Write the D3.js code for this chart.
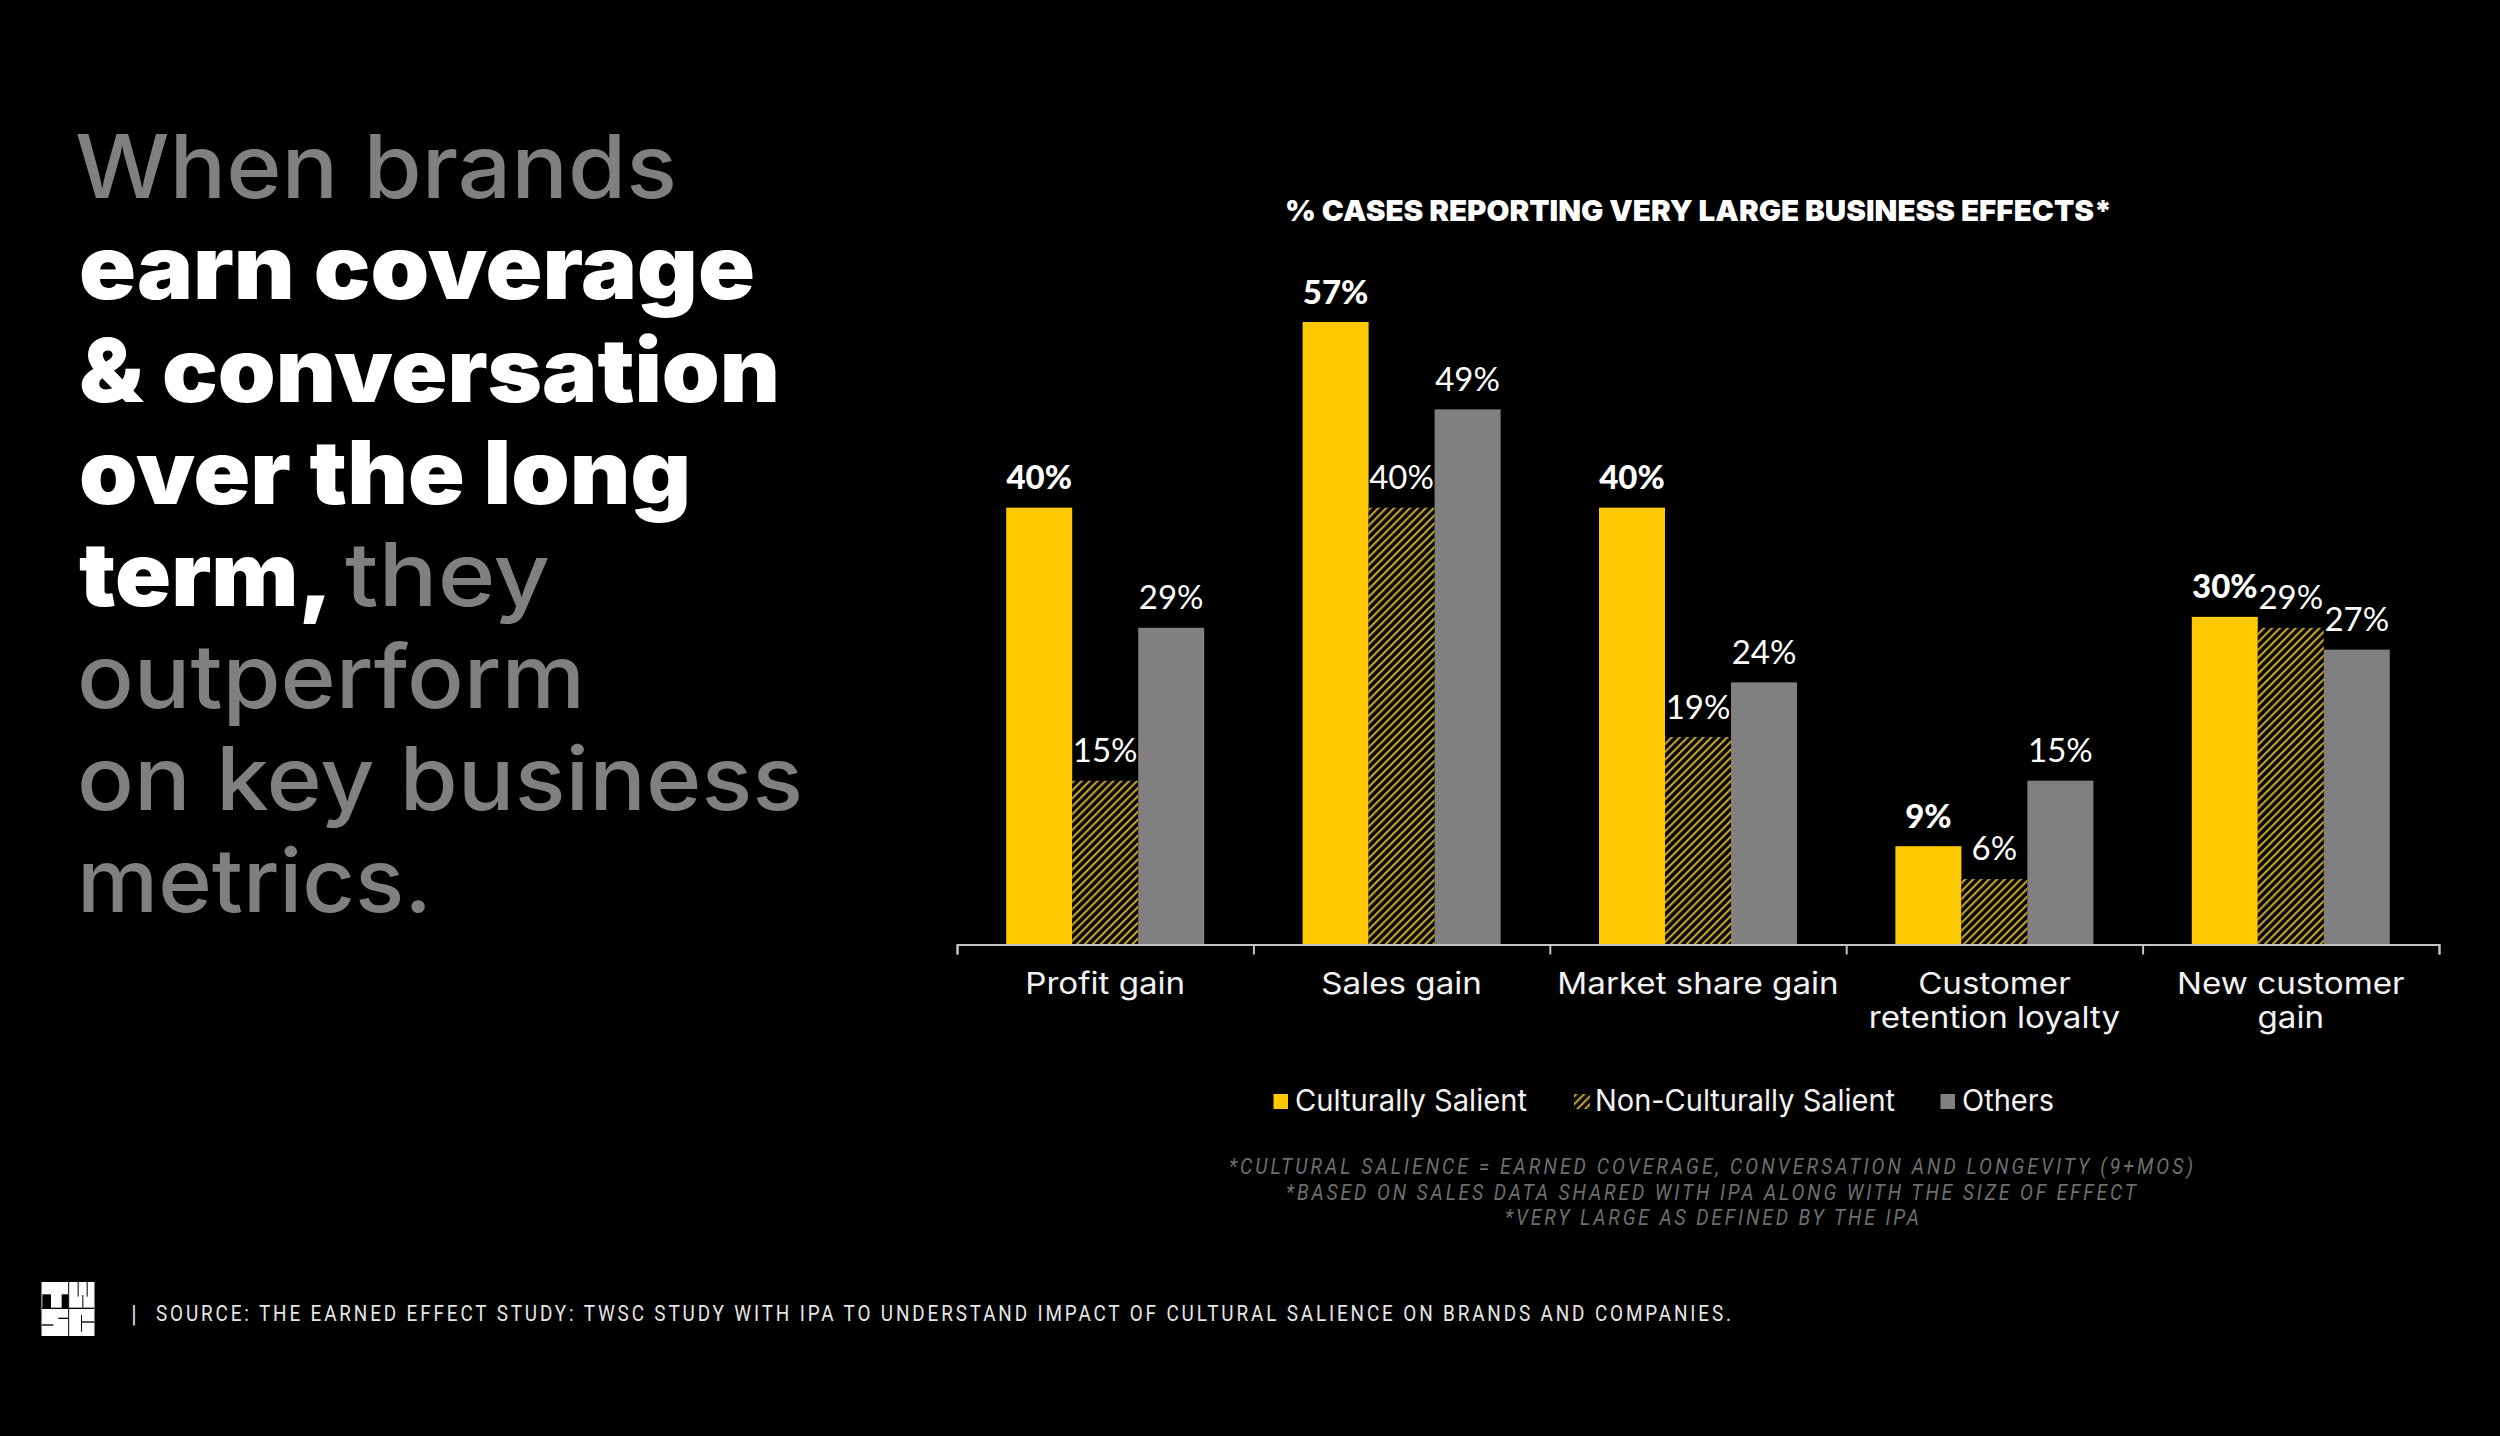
<!DOCTYPE html>
<html><head><meta charset="utf-8">
<script src="https://cdn.jsdelivr.net/npm/d3@7/dist/d3.min.js"></script>
<style>html,body{margin:0;padding:0;background:#000}svg{display:block}</style></head>
<body><svg id="c" width="2500" height="1436"></svg>
<script>
const categories=[["Profit gain"],["Sales gain"],["Market share gain"],["Customer","retention loyalty"],["New customer","gain"]];
const seriesNames=["Culturally Salient","Non-Culturally Salient","Others"];
const culturallySalient=[40,57,40,9,30];
const nonCulturallySalient=[15,40,19,6,29];
const others=[29,49,24,15,27];
const title="% CASES REPORTING VERY LARGE BUSINESS EFFECTS*";
const footnotes=["*CULTURAL SALIENCE = EARNED COVERAGE, CONVERSATION AND LONGEVITY (9+MOS)","*BASED ON SALES DATA SHARED WITH IPA ALONG WITH THE SIZE OF EFFECT","*VERY LARGE AS DEFINED BY THE IPA"];
const source="SOURCE: THE EARNED EFFECT STUDY: TWSC STUDY WITH IPA TO UNDERSTAND IMPACT OF CULTURAL SALIENCE ON BRANDS AND COMPANIES.";
const headline=[
 {x:75,y:198,x2:677,t:"When brands",b:0},
 {x:79,y:299,x2:755,t:"earn coverage",b:1},
 {x:79,y:402,x2:780,t:"& conversation",b:1},
 {x:79,y:504,x2:691,t:"over the long",b:1},
 {x:79,y:606,x2:333,t:"term,",b:1},
 {x:345,y:606,x2:550,t:"they",b:0},
 {x:77,y:708,x2:585,t:"outperform",b:0},
 {x:77,y:810,x2:803,t:"on key business",b:0},
 {x:77,y:912,x2:432,t:"metrics.",b:0}];
const YEL="#FFC800",GRY="#808080";
const svg=d3.select("#c");
svg.append("rect").attr("width",2500).attr("height",1436).attr("fill","#000");
const defs=svg.append("defs");
const pat=defs.append("pattern").attr("id","hatch").attr("patternUnits","userSpaceOnUse").attr("width",5.6).attr("height",5.6).attr("patternTransform","rotate(45)");
pat.append("rect").attr("width",5.6).attr("height",5.6).attr("fill","#000");
pat.append("rect").attr("x",0).attr("width",2.2).attr("height",5.6).attr("fill","#BFA02B");

function fit(sel,w){sel.attr("textLength",w).attr("lengthAdjust","spacingAndGlyphs");return sel;}

// headline
headline.forEach(h=>{
 fit(svg.append("text").attr("x",h.x).attr("y",h.y)
  .attr("font-family","Inter").attr("font-size",88).attr("font-weight",h.b?900:450)
  .attr("fill",h.b?"#fff":GRY).text(h.t),h.x2-h.x);
});

// chart
const x0=d3.scaleBand().domain(d3.range(categories.length)).range([957,2439]);
const y=d3.scaleLinear().domain([0,57]).range([944.5,322]);
const barW=66;
const x1=d3.scaleBand().domain([0,1,2]).range([0,barW*3]);
const inset=(x0.bandwidth()-barW*3)/2;
const series=[culturallySalient,nonCulturallySalient,others];
const fills=[YEL,"url(#hatch)",GRY];
series.forEach((vals,s)=>{
 const g=svg.append("g");
 g.selectAll("rect").data(vals).join("rect")
  .attr("x",(d,i)=>x0(i)+inset+x1(s)).attr("width",x1.bandwidth())
  .attr("y",d=>y(d)).attr("height",d=>y(0)-y(d)).attr("fill",fills[s]);
 g.selectAll("text").data(vals).join("text")
  .attr("x",(d,i)=>x0(i)+inset+x1(s)+x1.bandwidth()/2).attr("y",d=>y(d)-18.5)
  .attr("text-anchor","middle").attr("fill","#fff").attr("font-family","Lato")
  .attr("font-weight",s==0?900:400).attr("font-size",33)
  .text(d=>d+"%");
});
// axis: tick marks at band edges, labels centred
const edge=d3.scaleLinear().domain([0,categories.length]).range([957,2439]);
const axG=svg.append("g").attr("transform","translate(0,944.5)")
 .call(d3.axisBottom(edge).ticks(5).tickSize(10).tickSizeOuter(10).tickFormat(""));
axG.selectAll("path,line").attr("stroke","#c4c4c4").attr("stroke-width",2).attr("fill","none");
const lab=svg.append("g").selectAll("text").data(categories).join("text")
 .attr("text-anchor","middle").attr("fill","#f2f2f2").attr("font-family","Inter").attr("font-weight",400).attr("font-size",30)
 .attr("transform",(d,i)=>`translate(${x0(i)+x0.bandwidth()/2},0) scale(1.105,1)`);
lab.each(function(lines){
 d3.select(this).selectAll("tspan").data(lines).join("tspan")
  .attr("x",0).attr("y",(d,j)=>994+j*34).text(d=>d);
});
// title
fit(svg.append("text").attr("x",1285).attr("y",221).attr("font-family","Inter").attr("font-weight",900).attr("font-size",29).attr("fill","#fff").text(title),827);
// legend
const leg=[{sx:1273.5,sw:14.5,tx:1295,tw:232},{sx:1574,sw:16,tx:1595,tw:300},{sx:1940.5,sw:14.5,tx:1962,tw:92}];
const legG=svg.append("g");
legG.selectAll("rect").data(leg).join("rect").attr("x",d=>d.sx).attr("y",1094).attr("width",d=>d.sw).attr("height",15)
 .attr("fill",(d,i)=>fills[i]);
legG.selectAll("text").data(leg).join("text").attr("x",d=>d.tx).attr("y",1111).attr("fill","#f2f2f2").attr("font-family","Inter").attr("font-size",30)
 .attr("textLength",d=>d.tw).attr("lengthAdjust","spacingAndGlyphs").text((d,i)=>seriesNames[i]);
// condensed, letter-spaced small text
function spaced(x,yy,w,t,size,fill,sx,italic){
 svg.append("text").attr("transform",`translate(${x},${yy}) scale(${sx},1)`)
  .attr("font-family","Roboto").attr("font-size",size).attr("font-weight",400).attr("font-style",italic?"italic":"normal")
  .attr("fill",fill).attr("textLength",w/sx).attr("lengthAdjust","spacing").text(t);
}
const fnL=[[1229,964,1174],[1286,850,1200],[1505,414,1225]];
footnotes.forEach((t,i)=>spaced(fnL[i][0],fnL[i][2],fnL[i][1],t,22,"#6e6e6e",0.88,true));
// source
svg.append("text").attr("x",131).attr("y",1322).attr("font-family","Roboto").attr("font-size",24).attr("fill","#d9d9d9").text("|");
spaced(156,1321,1575,source,22,"#e6e6e6",0.86,false);
// logo
svg.append("rect").attr("x",41.5).attr("y",1282).attr("width",53).attr("height",54).attr("fill","#fff");
const u=v=>35+v/3,w=v=>1275+v/3;
const cuts=[[22,58,48,100],[80,58,100,100],[99.5,20,102.5,183],[20,98,178,102],[128,20,131,65],[155,20,158,65],[142,60,145,100],
 [20,148,55,152],[70,128,100,132],[138,120,141,170],[140,139,178,143]];
svg.append("g").selectAll("rect").data(cuts).join("rect")
 .attr("x",d=>u(d[0])).attr("y",d=>w(d[1])).attr("width",d=>u(d[2])-u(d[0])).attr("height",d=>w(d[3])-w(d[1])).attr("fill","#000");
</script></body></html>
